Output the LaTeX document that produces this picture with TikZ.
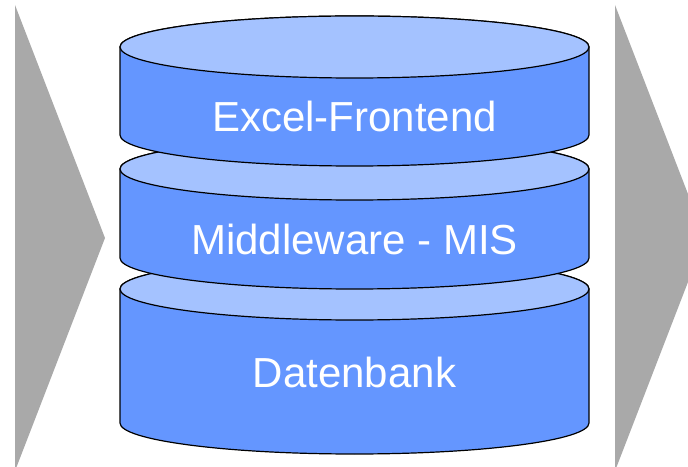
\documentclass[tikz,border=0pt]{standalone}
\usepackage{fontspec}
\setmainfont{Liberation Sans}
\usepackage{tikz}
\usetikzlibrary{positioning}
\definecolor{arrowgray}{RGB}{169,169,169}
\definecolor{dbside}{RGB}{100,150,255}
\definecolor{dblid}{RGB}{164,194,255}

% one layer of the stack: top y, bottom y, text y, name, text
\newcommand{\dblayer}[5]{
  \path[side] (120,#1) -- (120,#2)
    arc[start angle=180,end angle=360,x radius=234.5,y radius=31]
    -- (589,#1)
    arc[start angle=0,end angle=180,x radius=234.5,y radius=31] -- cycle;
  \path[lid] (354.5,#1) ellipse[x radius=234.5,y radius=31];
  \node[layertext] (#4) at (354.5,#3) {#5};
}

\begin{document}
\begin{tikzpicture}[
  x = 1pt, y = 1pt,
  side/.style = {
    fill = dbside,
    draw = black,
    line width = 1.2pt,
    line join = round,
  },
  lid/.style = {
    fill = dblid,
    draw = black,
    line width = 1.2pt,
  },
  layertext/.style = {
    text = white,
    font = \fontsize{42}{50}\selectfont,
    inner sep = 0pt,
  },
]
  \useasboundingbox (0,0) rectangle (688,466);
  \clip (0,0) rectangle (688,466);

  % process arrows
  \fill[arrowgray] (15,461) -- (105,228) -- (15,-5) -- cycle;
  \fill[arrowgray] (615,461) -- (705,228) -- (615,-5) -- cycle;

  % stack, drawn from the bottom up
  \dblayer{177}{43}{94}{db}{Datenbank}
  \dblayer{297}{208}{227}{mis}{Middleware - MIS}
  \dblayer{419}{331}{350}{excel}{Excel-Frontend}
\end{tikzpicture}
\end{document}
